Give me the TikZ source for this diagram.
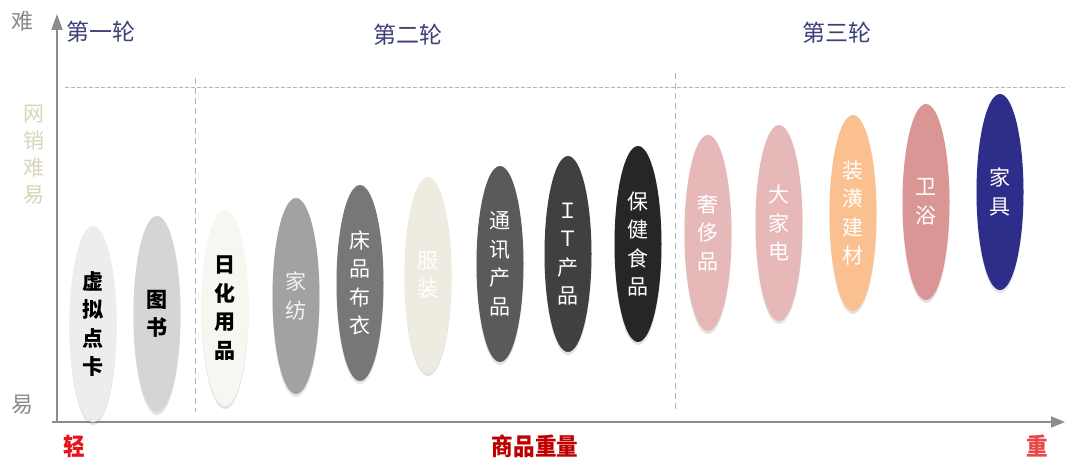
\documentclass[tikz,border=0pt]{standalone}
\usepackage{fontspec}
\newfontfamily\cjk{Noto Sans CJK SC}
\usetikzlibrary{shapes.geometric,arrows.meta,shadows}
\definecolor{axisgray}{HTML}{8C8C8C}
\definecolor{dashgray}{HTML}{B4B4B4}
\definecolor{navy}{HTML}{3C4177}
\definecolor{khaki}{HTML}{D9D5BA}
\definecolor{lblgray}{HTML}{8A8A8A}
\definecolor{redA}{HTML}{E8141B}
\definecolor{redB}{HTML}{C00000}
\definecolor{redC}{HTML}{E8474C}
\definecolor{cA}{HTML}{EDEDED}
\definecolor{cB}{HTML}{D5D5D5}
\definecolor{cC}{HTML}{F7F6F0}
\definecolor{cD}{HTML}{A2A2A2}
\definecolor{cE}{HTML}{777777}
\definecolor{cF}{HTML}{EEECE1}
\definecolor{cG}{HTML}{5A5A5A}
\definecolor{cH}{HTML}{404040}
\definecolor{cI}{HTML}{262626}
\definecolor{cJ}{HTML}{E6B9B8}
\definecolor{cK}{HTML}{FAC090}
\definecolor{cL}{HTML}{D99694}
\definecolor{cM}{HTML}{2E2D8A}
\begin{document}
\begin{tikzpicture}[x=1pt,y=-1pt,
  item/.style={ellipse, minimum width=47pt, minimum height=196pt, inner sep=0pt,
    align=center, font=\cjk\fontsize{21}{28.5}\selectfont,
    drop shadow={shadow xshift=0pt,shadow yshift=-3pt,opacity=0.22}},
  darktext/.style={text=black, font=\cjk\bfseries\fontsize{21}{28.5}\selectfont},
  lighttext/.style={text=white},
  axisline/.style={draw=axisgray, line width=1.8pt},
  guide/.style={draw=dashgray, line width=1pt},
  round/.style={text=navy, font=\cjk\fontsize{23}{26}\selectfont},
  endlbl/.style={text=lblgray, font=\cjk\fontsize{22}{26}\selectfont},
  wlbl/.style={font=\cjk\bfseries\fontsize{24}{26}\selectfont, xscale=0.9}]
\useasboundingbox (0,0) rectangle (1066,465);
\fill[white] (0,0) rectangle (1066,465);

% guides
\coordinate (hs) at (65,88);
\coordinate (he) at (1066,88);
\coordinate (v1s) at (195,78);
\coordinate (v1e) at (195,412);
\coordinate (v2s) at (675,73);
\coordinate (v2e) at (675,410);
\draw[guide, dash pattern=on 4pt off 2pt] (hs) -- (he);
\draw[guide, dash pattern=on 6pt off 4pt] (v1s) -- (v1e);
\draw[guide, dash pattern=on 6pt off 4pt] (v2s) -- (v2e);

% axes
\coordinate (o) at (57,422);
\coordinate (xs) at (52,422);
\coordinate (xt) at (1065,422);
\coordinate (yt) at (57,14);
\draw[axisline, -{Triangle[length=14pt,width=11pt]}] (xs) -- (xt);
\draw[axisline, -{Triangle[length=16pt,width=11pt]}] (o) -- (yt);

% axis labels
\node[endlbl] (hard) at (22,21) {难};
\node[endlbl] (easy) at (23,405) {易};
\node[text=khaki, align=center, font=\cjk\fontsize{21}{27}\selectfont] (ylbl) at (34,155) {网\\销\\难\\易};
\node[wlbl, text=redA] (light) at (74,446) {轻};
\node[wlbl, text=redB] (wt) at (535,446) {商品重量};
\node[wlbl, text=redC] (heavy) at (1037,446) {重};

% rounds
\node[round] (r1) at (101,32) {第一轮};
\node[round] (r2) at (408,35) {第二轮};
\node[round] (r3) at (837,33) {第三轮};

% items
\node[item, fill=cA, darktext] (e1) at (93,324) {虚\\拟\\点\\卡};
\node[item, fill=cB, darktext] (e2) at (157,314) {图\\书};
\node[item, fill=cC, darktext] (e3) at (225,308) {日\\化\\用\\品};
\node[item, fill=cD, text=white!90!gray] (e4) at (296,296) {家\\纺};
\node[item, fill=cE, lighttext] (e5) at (360,283) {床\\品\\布\\衣};
\node[item, fill=cF, lighttext] (e6) at (428,275) {服\\装};
\node[item, fill=cG, lighttext] (e7) at (500,264) {通\\讯\\产\\品};
\node[item, fill=cH, lighttext] (e8) at (568,254) {Ｉ\\Ｔ\\产\\品};
\node[item, fill=cI, lighttext] (e9) at (638,244) {保\\健\\食\\品};
\node[item, fill=cJ, lighttext] (e10) at (708,233) {奢\\侈\\品};
\node[item, fill=cJ, lighttext] (e11) at (779,223) {大\\家\\电};
\node[item, fill=cK, lighttext] (e12) at (853,213) {装\\潢\\建\\材};
\node[item, fill=cL, lighttext] (e13) at (926,202) {卫\\浴};
\node[item, fill=cM, lighttext] (e14) at (1000,192) {家\\具};
\end{tikzpicture}
\end{document}
